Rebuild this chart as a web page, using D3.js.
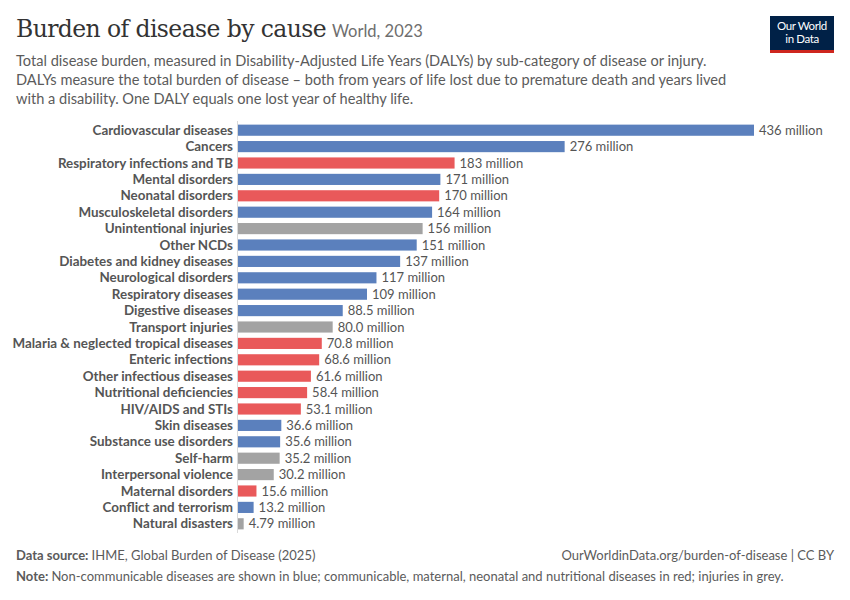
<!DOCTYPE html>
<html>
<head>
<meta charset="utf-8">
<script src="https://cdn.jsdelivr.net/npm/d3@7"></script>
<style>
  body { margin: 0; background: #fff; }
  svg { font-family: Lato, sans-serif; }
</style>
</head>
<body>
<div id="chart"></div>
<script>
let causes = ['Cardiovascular diseases', 'Cancers', 'Respiratory infections and TB', 'Mental disorders',
  'Neonatal disorders', 'Musculoskeletal disorders', 'Unintentional injuries', 'Other NCDs',
  'Diabetes and kidney diseases', 'Neurological disorders', 'Respiratory diseases', 'Digestive diseases',
  'Transport injuries', 'Malaria & neglected tropical diseases', 'Enteric infections', 'Other infectious diseases',
  'Nutritional deficiencies', 'HIV/AIDS and STIs', 'Skin diseases', 'Substance use disorders', 'Self-harm',
  'Interpersonal violence', 'Maternal disorders', 'Conflict and terrorism', 'Natural disasters']

let dalys = [436, 276, 183, 171, 170, 164, 156, 151, 137, 117, 109, 88.5, 80.0, 70.8, 68.6, 61.6,
  58.4, 53.1, 36.6, 35.6, 35.2, 30.2, 15.6, 13.2, 4.79]

let valueLabels = ['436 million', '276 million', '183 million', '171 million', '170 million', '164 million',
  '156 million', '151 million', '137 million', '117 million', '109 million', '88.5 million', '80.0 million',
  '70.8 million', '68.6 million', '61.6 million', '58.4 million', '53.1 million', '36.6 million',
  '35.6 million', '35.2 million', '30.2 million', '15.6 million', '13.2 million', '4.79 million']

// ncd = blue, cmnn = red, inj = grey
let groups = ['ncd', 'ncd', 'cmnn', 'ncd', 'cmnn', 'ncd', 'inj', 'ncd', 'ncd', 'ncd', 'ncd', 'ncd', 'inj',
  'cmnn', 'cmnn', 'cmnn', 'cmnn', 'cmnn', 'ncd', 'ncd', 'inj', 'inj', 'cmnn', 'ncd', 'inj']

let data = causes.map((c, i) => ({ name: c, value: dalys[i], label: valueLabels[i], group: groups[i] }))

let width = 850
let height = 600
let margin = { top: 122, left: 238, right: 96, bottom: 67 }

let svg = d3.select('#chart')
  .append('svg')
  .attr('width', width)
  .attr('height', height)

let xScale = d3.scaleLinear()
  .domain([0, 436])
  .range([margin.left, width - margin.right])

let yScale = d3.scaleBand()
  .domain(causes)
  .range([margin.top, height - margin.bottom - 1])
  .paddingInner(0.32)
  .paddingOuter(0.16)

let colorScale = d3.scaleOrdinal()
  .domain(['ncd', 'cmnn', 'inj'])
  .range(['#5b80bd', '#e9595a', '#a3a3a3'])

// header
svg.append('text')
  .attr('x', 16)
  .attr('y', 37)
  .attr('font-family', '"DejaVu Serif", serif')
  .attr('font-size', 23.5)
  .attr('fill', '#333')
  .attr('letter-spacing', -0.6)
  .text('Burden of disease by cause')
  .append('tspan')
  .attr('font-family', 'Lato, sans-serif')
  .attr('font-size', 16.5)
  .attr('fill', '#6e6e6e')
  .attr('letter-spacing', 0)
  .attr('dx', 6)
  .text('World, 2023')

let subtitle = [
  'Total disease burden, measured in Disability-Adjusted Life Years (DALYs) by sub-category of disease or injury.',
  'DALYs measure the total burden of disease – both from years of life lost due to premature death and years lived',
  'with a disability. One DALY equals one lost year of healthy life.'
]

svg.selectAll('.subtitle')
  .data(subtitle)
  .enter()
  .append('text')
  .attr('class', 'subtitle')
  .attr('x', 16)
  .attr('y', (d, i) => 66 + i * 19)
  .attr('font-size', 14.6)
  .attr('fill', '#5b5b5b')
  .text(d => d)

// logo
let logo = svg.append('g').attr('transform', 'translate(770,16)')
logo.append('rect').attr('width', 64).attr('height', 34).attr('fill', '#002147')
logo.append('rect').attr('y', 34).attr('width', 64).attr('height', 3).attr('fill', '#ce261e')
logo.selectAll('.logo-text')
  .data(['Our World', 'in Data'])
  .enter()
  .append('text')
  .attr('x', 32)
  .attr('y', (d, i) => 14 + i * 13)
  .attr('text-anchor', 'middle')
  .attr('font-size', 11.5)
  .attr('fill', 'white')
  .attr('letter-spacing', -0.4)
  .text(d => d)

// bars
svg.selectAll('.bar')
  .data(data)
  .enter()
  .append('rect')
  .attr('class', 'bar')
  .attr('x', xScale(0))
  .attr('y', d => yScale(d.name))
  .attr('width', d => xScale(d.value) - xScale(0))
  .attr('height', yScale.bandwidth())
  .attr('fill', d => colorScale(d.group))

svg.append('line')
  .attr('x1', xScale(0) - 0.5)
  .attr('x2', xScale(0) - 0.5)
  .attr('y1', margin.top - 1)
  .attr('y2', height - margin.bottom)
  .attr('stroke', '#dadada')
  .attr('stroke-width', 1)

svg.selectAll('.cause-label')
  .data(data)
  .enter()
  .append('text')
  .attr('class', 'cause-label')
  .attr('x', xScale(0) - 5)
  .attr('y', d => yScale(d.name) + yScale.bandwidth() / 2)
  .attr('dy', '0.35em')
  .attr('text-anchor', 'end')
  .attr('font-size', 13.4)
  .attr('font-weight', 'bold')
  .attr('fill', '#555')
  .text(d => d.name)

svg.selectAll('.value-label')
  .data(data)
  .enter()
  .append('text')
  .attr('class', 'value-label')
  .attr('x', d => xScale(d.value) + 5)
  .attr('y', d => yScale(d.name) + yScale.bandwidth() / 2)
  .attr('dy', '0.35em')
  .attr('font-size', 13)
  .attr('fill', '#555')
  .text(d => d.label)

// footer
let source = svg.append('text')
  .attr('x', 16)
  .attr('y', 560)
  .attr('font-size', 13)
  .attr('fill', '#5b5b5b')
source.append('tspan').attr('font-weight', 'bold').text('Data source: ')
source.append('tspan').text('IHME, Global Burden of Disease (2025)')

svg.append('text')
  .attr('x', 834)
  .attr('y', 560)
  .attr('text-anchor', 'end')
  .attr('font-size', 13)
  .attr('fill', '#5b5b5b')
  .text('OurWorldinData.org/burden-of-disease | CC BY')

let note = svg.append('text')
  .attr('x', 16)
  .attr('y', 581)
  .attr('font-size', 13)
  .attr('fill', '#5b5b5b')
note.append('tspan').attr('font-weight', 'bold').text('Note: ')
note.append('tspan').text('Non-communicable diseases are shown in blue; communicable, maternal, neonatal and nutritional diseases in red; injuries in grey.')
</script>
</body>
</html>
